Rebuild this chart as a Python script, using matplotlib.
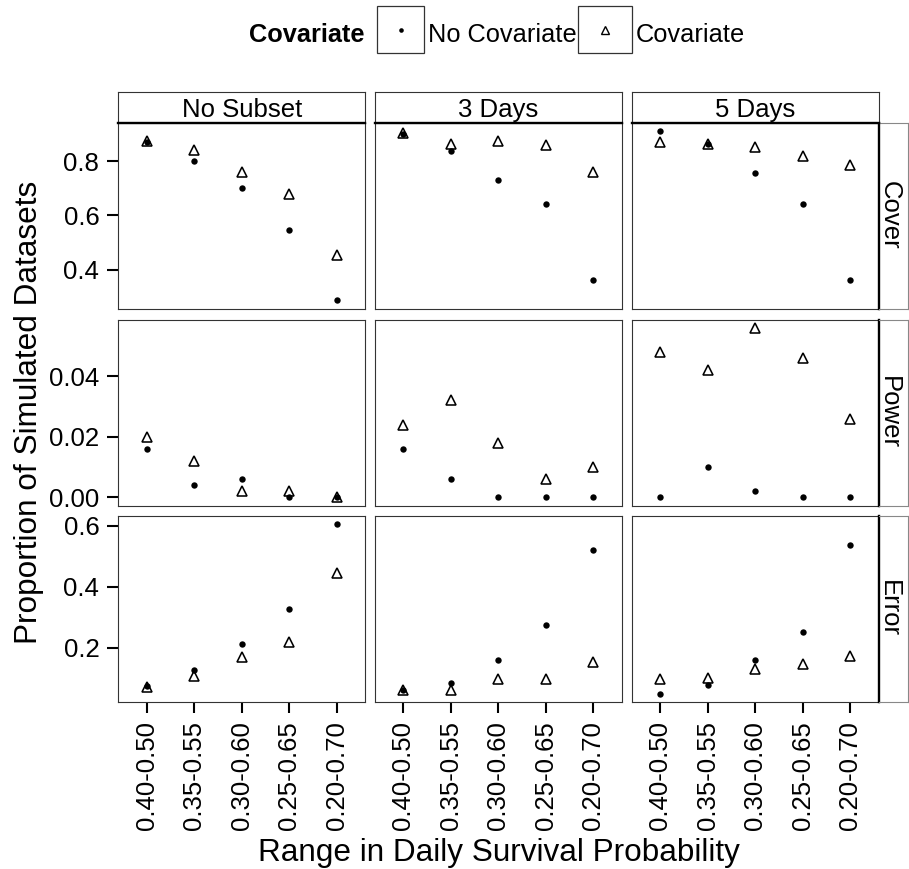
import matplotlib
matplotlib.use("Agg")
import matplotlib.pyplot as plt
from matplotlib.lines import Line2D
from matplotlib.patches import Rectangle

plt.rcParams['font.family'] = ['Liberation Sans', 'DejaVu Sans']

# ---------------- data ----------------
categories = ["0.40-0.50", "0.35-0.55", "0.30-0.60", "0.25-0.65", "0.20-0.70"]
subsets = ["No Subset", "3 Days", "5 Days"]
measures = ["Cover", "Power", "Error"]
series_labels = ["No Covariate", "Covariate"]
legend_title = "Covariate"
x_title = "Range in Daily Survival Probability"
y_title = "Proportion of Simulated Datasets"

# values per subset (No Subset, 3 Days, 5 Days)
cover_no_cov = [[0.870, 0.801, 0.702, 0.547, 0.287],
                [0.900, 0.837, 0.730, 0.641, 0.361],
                [0.911, 0.865, 0.755, 0.642, 0.361]]
cover_cov = [[0.875, 0.840, 0.761, 0.679, 0.455],
             [0.905, 0.865, 0.873, 0.859, 0.761],
             [0.871, 0.865, 0.852, 0.819, 0.785]]
power_no_cov = [[0.016, 0.004, 0.006, 0.000, 0.000],
                [0.016, 0.006, 0.000, 0.000, 0.000],
                [0.000, 0.010, 0.002, 0.000, 0.000]]
power_cov = [[0.020, 0.012, 0.002, 0.002, 0.000],
             [0.024, 0.032, 0.018, 0.006, 0.010],
             [0.048, 0.042, 0.056, 0.046, 0.026]]
error_no_cov = [[0.075, 0.127, 0.212, 0.328, 0.604],
                [0.064, 0.084, 0.162, 0.274, 0.519],
                [0.051, 0.078, 0.162, 0.251, 0.536]]
error_cov = [[0.074, 0.108, 0.169, 0.220, 0.445],
             [0.064, 0.062, 0.097, 0.100, 0.154],
             [0.100, 0.103, 0.130, 0.146, 0.174]]

cover_ticks = [0.4, 0.6, 0.8]
power_ticks = [0.00, 0.02, 0.04]
error_ticks = [0.2, 0.4, 0.6]
cover_tick_labels = ["0.4", "0.6", "0.8"]
power_tick_labels = ["0.00", "0.02", "0.04"]
error_tick_labels = ["0.2", "0.4", "0.6"]

rows_no_cov = [cover_no_cov, power_no_cov, error_no_cov]
rows_cov = [cover_cov, power_cov, error_cov]
rows_ticks = [cover_ticks, power_ticks, error_ticks]
rows_tick_labels = [cover_tick_labels, power_tick_labels, error_tick_labels]

# ---------------- layout ----------------
W, H = 909, 869
fig = plt.figure(figsize=(W / 100, H / 100), dpi=100)
fig.patch.set_facecolor('white')


def fx(px):
    return px / W


def fy(py):
    return 1 - py / H


col_left = [118.3, 375.0, 632.0]
panel_w = 246.7
row_top = [122.7, 319.5, 516.0]
panel_h = 186.0
strip_top = 91.7
strip_right_w = 29.0

border_col = '#333333'
thick = 1.7

for r in range(3):
    nocov = rows_no_cov[r]
    cov = rows_cov[r]
    allv = [v for s in nocov + cov for v in s]
    lo, hi = min(allv), max(allv)
    pad = 0.05 * (hi - lo)
    for c in range(3):
        ax = fig.add_axes([fx(col_left[c]), fy(row_top[r] + panel_h),
                           panel_w / W, panel_h / H])
        xs = list(range(len(categories)))
        ax.plot(xs, cov[c], ls='none', marker='^', ms=7.8, mfc='none',
                mec='black', mew=1.15, zorder=3)
        ax.plot(xs, nocov[c], ls='none', marker='o', ms=4.6, mfc='black',
                mec='black', mew=0, zorder=4)
        ax.set_xlim(-0.6, len(categories) - 0.4)
        ax.set_ylim(lo - pad, hi + pad)
        for sp in ax.spines.values():
            sp.set_color(border_col)
            sp.set_linewidth(0.8)
        ax.set_xticks(xs)
        ax.set_yticks(rows_ticks[r])
        ax.tick_params(direction='out', length=8.2, width=1.5, colors='black',
                       labelsize=18.5, pad=5.5)
        if c == 0:
            ax.set_yticklabels(rows_tick_labels[r])
        else:
            ax.tick_params(axis='y', left=False, labelleft=False)
        if r == 2:
            ax.set_xticklabels(categories, rotation=90)
        else:
            ax.tick_params(axis='x', bottom=False, labelbottom=False)

    # right strip
    sax = fig.add_axes([fx(col_left[2] + panel_w), fy(row_top[r] + panel_h),
                        strip_right_w / W, panel_h / H])
    sax.set_xticks([])
    sax.set_yticks([])
    for sp in sax.spines.values():
        sp.set_color('#888888')
        sp.set_linewidth(0.8)
    sax.spines['left'].set_color('black')
    sax.spines['left'].set_linewidth(thick)
    sax.text(0.45, 0.5, measures[r], transform=sax.transAxes, rotation=270,
             rotation_mode='anchor', ha='center', va='center_baseline',
             fontsize=18.5)

# top strips
for c in range(3):
    sax = fig.add_axes([fx(col_left[c]), fy(row_top[0]),
                        panel_w / W, (row_top[0] - strip_top) / H])
    sax.set_xticks([])
    sax.set_yticks([])
    for sp in sax.spines.values():
        sp.set_color(border_col)
        sp.set_linewidth(0.8)
    sax.spines['bottom'].set_color('black')
    sax.spines['bottom'].set_linewidth(thick)
    sax.text(0.5, 0.5, subsets[c], transform=sax.transAxes, ha='center',
             va='center_baseline', fontsize=18.5)

# axis titles
fig.text(fx(498.5), fy(861), x_title, ha='center', va='baseline', fontsize=22.7)
fig.text(fx(26), fy(412), y_title, rotation=90, rotation_mode='anchor',
         ha='center', va='center_baseline', fontsize=22.7)

# legend
leg_base = 41.5
fig.text(fx(249), fy(leg_base), legend_title, fontweight='bold', fontsize=18.3,
         ha='left', va='baseline')
box1 = (377.3, 424.3)
box2 = (578.3, 631.5)
box_y = (6.0, 53.3)
for (x0, x1) in (box1, box2):
    fig.add_artist(Rectangle((fx(x0), fy(box_y[1])), (x1 - x0) / W,
                             (box_y[1] - box_y[0]) / H, transform=fig.transFigure,
                             facecolor='white', edgecolor=border_col, lw=0.9))
cy = (box_y[0] + box_y[1]) / 2
fig.add_artist(Line2D([fx((box1[0] + box1[1]) / 2)], [fy(cy)], marker='o', ms=3.3,
                      mfc='black', mec='black', mew=0, ls='none',
                      transform=fig.transFigure))
fig.add_artist(Line2D([fx((box2[0] + box2[1]) / 2)], [fy(cy)], marker='^', ms=6.2,
                      mfc='none', mec='black', mew=1.0, ls='none',
                      transform=fig.transFigure))
fig.text(fx(428.3), fy(leg_base), series_labels[0], fontsize=18.3,
         ha='left', va='baseline')
fig.text(fx(636.0), fy(leg_base), series_labels[1], fontsize=18.3,
         ha='left', va='baseline')

fig.savefig("out.png", dpi=100, facecolor='white')
